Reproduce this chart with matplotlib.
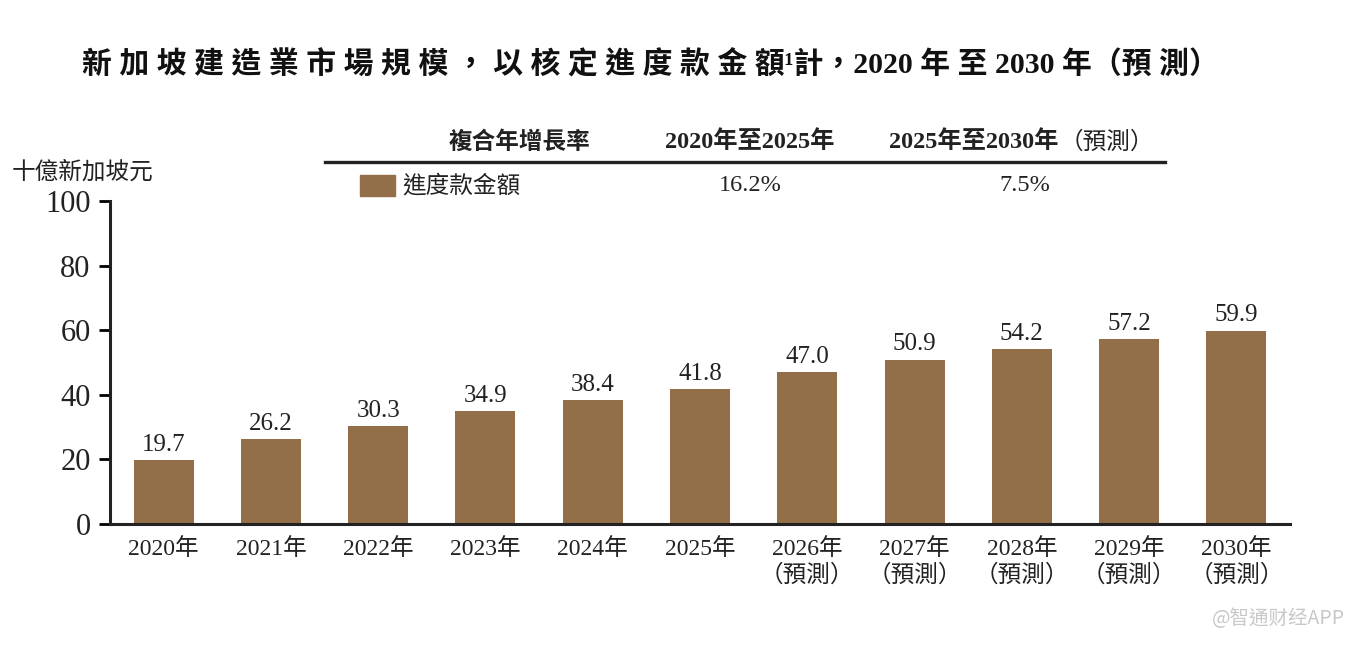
import matplotlib
matplotlib.use("Agg")
import matplotlib.pyplot as plt
from matplotlib.patches import Rectangle
from matplotlib.lines import Line2D

years = ["2020年", "2021年", "2022年", "2023年", "2024年", "2025年",
         "2026年\n（預測）", "2027年\n（預測）", "2028年\n（預測）", "2029年\n（預測）", "2030年\n（預測）"]
values = [19.7, 26.2, 30.3, 34.9, 38.4, 41.8, 47.0, 50.9, 54.2, 57.2, 59.9]
value_labels = ["19.7", "26.2", "30.3", "34.9", "38.4", "41.8", "47.0", "50.9", "54.2", "57.2", "59.9"]
yticks = [0, 20, 40, 60, 80, 100]
cagr_header = ["複合年增長率", "2020年至2025年", "2025年至2030年", "（預測）"]
cagr_row = ["進度款金額", "16.2%", "7.5%"]
title_chars = "新加坡建造業市場規模，以核定進度款金額"
title_tail = "¹計，2020 年 至 2030 年（預 測）"
ylabel = "十億新加坡元"

COLOR = "#926e49"
FAM = ["Liberation Serif", "Noto Sans CJK TC"]
FAM_SANS = ["Noto Sans CJK TC", "DejaVu Sans"]
plt.rcParams['font.family'] = FAM

W, H = 1370, 648
fig = plt.figure(figsize=(W / 100, H / 100), dpi=100)
ax = fig.add_axes([110 / W, 1 - 524 / H, (1290 - 110) / W, (524 - 201) / H])

x = list(range(len(values)))
ax.bar(x, values, width=0.56, color=COLOR, zorder=2)
for xi, v, lab in zip(x, values, value_labels):
    ax.text(xi, v + 1.3, lab, ha="center", va="bottom", fontsize=18, color="#222222")

ax.set_xlim(-0.5, len(values) - 0.5)
ax.set_ylim(0, 100)
ax.set_yticks(yticks)
ax.set_yticklabels([str(t) for t in yticks], fontsize=22, color="#222222")
ax.set_xticks(x)
ax.set_xticklabels(years, fontsize=17, color="#222222", linespacing=1.25)
ax.tick_params(axis="y", direction="out", length=8, width=2, pad=6)
ax.tick_params(axis="x", length=0, pad=10)
for s in ["top", "right"]:
    ax.spines[s].set_visible(False)
for s in ["left", "bottom"]:
    ax.spines[s].set_linewidth(2.2)
    ax.spines[s].set_color("#222222")

def fx(px):
    return px / W

def fy(py):
    return 1 - py / H

# Title
title = " ".join(title_chars) + title_tail
fig.text(fx(650), fy(65), title, ha="center", va="center", fontsize=21.5,
         fontweight="bold", color="#111111", family=FAM)

# Y unit label
fig.text(fx(12), fy(172), ylabel, ha="left", va="center", fontsize=17,
         color="#222222", family=FAM_SANS)

# CAGR table
fig.text(fx(520), fy(142), cagr_header[0], ha="center", va="center", fontsize=17,
         fontweight="bold", color="#222222", family=FAM_SANS)
fig.text(fx(750), fy(142), cagr_header[1], ha="center", va="center", fontsize=17.5,
         fontweight="bold", color="#222222", family=FAM)
fig.text(fx(1058), fy(142), cagr_header[2], ha="right", va="center", fontsize=17.5,
         fontweight="bold", color="#222222", family=FAM)
fig.text(fx(1060), fy(142), cagr_header[3], ha="left", va="center", fontsize=17,
         color="#222222", family=FAM_SANS)
fig.add_artist(Line2D([fx(325), fx(1165)], [fy(162), fy(162)], color="#222222", lw=2.4))
fig.add_artist(Rectangle((fx(360), fy(196)), fx(395) - fx(360), fy(175) - fy(196),
                         color=COLOR, transform=fig.transFigure))
fig.text(fx(402), fy(186), cagr_row[0], ha="left", va="center", fontsize=17,
         color="#222222", family=FAM_SANS)
fig.text(fx(750), fy(186), cagr_row[1], ha="center", va="center", fontsize=17.5,
         color="#222222", family=FAM)
fig.text(fx(1025), fy(186), cagr_row[2], ha="center", va="center", fontsize=17.5,
         color="#222222", family=FAM)

# Watermark
fig.text(fx(1345), fy(618), "@智通财经APP", ha="right", va="center", fontsize=14,
         color="#c8c8c8", family=FAM_SANS)

fig.savefig("out.png", dpi=100)
